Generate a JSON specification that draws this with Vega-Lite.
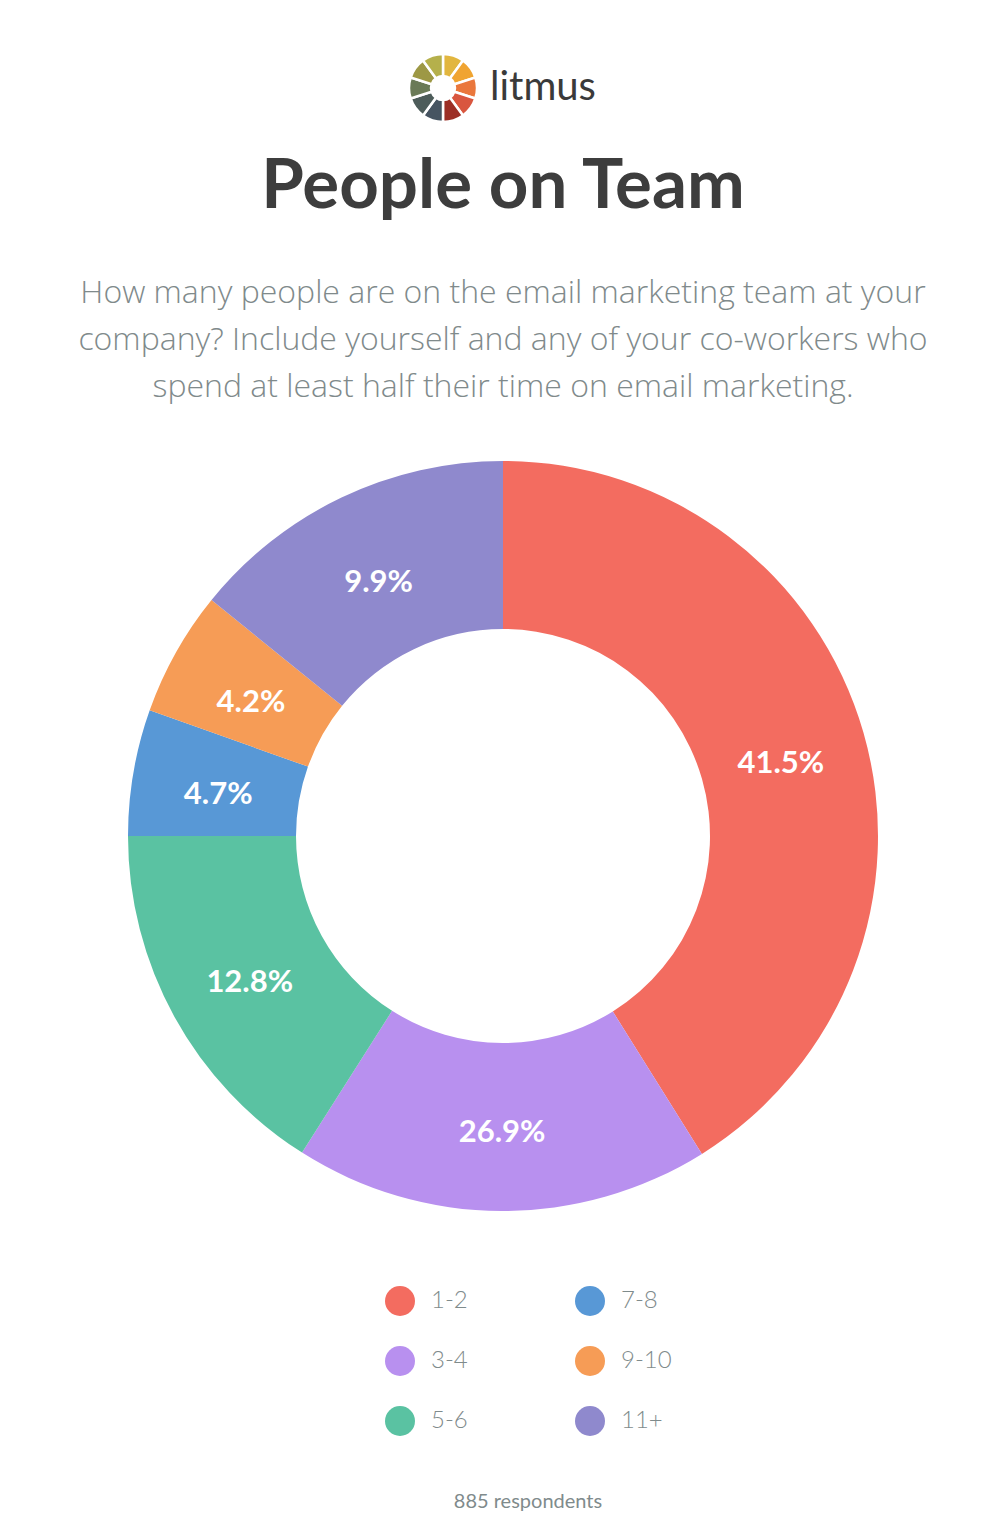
{
  "$schema": "https://vega.github.io/schema/vega-lite/v6.json",
  "width": 994,
  "height": 1388,
  "autosize": {"type": "none"},
  "padding": {"left": 6, "top": 142, "right": 0, "bottom": 0},
  "background": "#ffffff",
  "config": {"view": {"stroke": null}},
  "title": {
    "text": "People on Team",
    "subtitle": [
      "How many people are on the email marketing team at your",
      "company? Include yourself and any of your co-workers who",
      "spend at least half their time on email marketing."
    ],
    "orient": "top",
    "anchor": "middle",
    "frame": "group",
    "offset": -354,
    "font": "Lato",
    "fontSize": 69,
    "fontWeight": "bold",
    "color": "#3d3d3d",
    "subtitleFont": "Open Sans",
    "subtitleFontSize": 32,
    "subtitleFontWeight": 300,
    "subtitleColor": "#808a8b",
    "subtitleLineHeight": 47,
    "subtitlePadding": 56
  },
  "datasets": {
    "teams": [
      {"group": "1-2", "drawn": 0.411, "pct": 0.415, "rank": 1},
      {"group": "3-4", "drawn": 0.179, "pct": 0.269, "rank": 2},
      {"group": "5-6", "drawn": 0.160, "pct": 0.128, "rank": 3},
      {"group": "7-8", "drawn": 0.0544, "pct": 0.047, "rank": 4},
      {"group": "9-10", "drawn": 0.0539, "pct": 0.042, "rank": 5},
      {"group": "11+", "drawn": 0.1417, "pct": 0.099, "rank": 6}
    ],
    "logo": [
      {"seg": "a", "v": 0.1},
      {"seg": "b", "v": 0.1},
      {"seg": "c", "v": 0.1},
      {"seg": "d", "v": 0.1},
      {"seg": "e", "v": 0.1},
      {"seg": "f", "v": 0.1},
      {"seg": "g", "v": 0.1},
      {"seg": "h", "v": 0.1},
      {"seg": "i", "v": 0.1},
      {"seg": "j", "v": 0.1}
    ],
    "brand": [{"name": "litmus"}]
  },
  "layer": [
    {
      "data": {"name": "teams"},
      "mark": {"type": "arc", "radius": 375, "innerRadius": 207},
      "encoding": {
        "theta": {"field": "drawn", "type": "quantitative", "stack": true},
        "order": {"field": "rank", "type": "quantitative"},
        "color": {
          "field": "group",
          "type": "nominal",
          "scale": {
            "domain": ["1-2", "7-8", "3-4", "9-10", "5-6", "11+"],
            "range": ["#F36C60", "#5898D6", "#B890EF", "#F69C56", "#5AC2A2", "#8F89CD"]
          },
          "legend": {
            "orient": "none",
            "legendX": 379,
            "legendY": 1144,
            "columns": 2,
            "direction": "horizontal",
            "symbolType": "circle",
            "symbolSize": 900,
            "symbolStrokeWidth": 0,
            "symbolOpacity": 1,
            "labelFont": "Lato",
            "labelFontSize": 24,
            "labelFontWeight": 300,
            "labelColor": "#7f8b8c",
            "labelOffset": 16,
            "columnPadding": 107,
            "rowPadding": 30,
            "title": "885 respondents",
            "titleOrient": "bottom",
            "titleAnchor": "middle",
            "titleAlign": "center",
            "titleFont": "Lato",
            "titleFontSize": 20,
            "titleFontWeight": "normal",
            "titleColor": "#7f8b8c",
            "titlePadding": 56,
            "titleLimit": 400
          }
        }
      }
    },
    {
      "data": {"name": "teams"},
      "mark": {"type": "text", "radius": 289, "dy": 8, "font": "Lato", "fontSize": 31, "fontWeight": "bold", "color": "#ffffff", "align": "center", "baseline": "middle"},
      "encoding": {
        "theta": {"field": "drawn", "type": "quantitative", "stack": true},
        "order": {"field": "rank", "type": "quantitative"},
        "text": {"field": "pct", "type": "quantitative", "format": ".1%"}
      }
    },
    {
      "data": {"name": "logo"},
      "mark": {"type": "arc", "x": 437, "y": -54, "radius": 34, "innerRadius": 12, "stroke": "#ffffff", "strokeWidth": 2.5},
      "encoding": {
        "theta": {"field": "v", "type": "quantitative", "stack": true, "scale": {"domain": [0, 1]}},
        "order": {"field": "seg", "type": "nominal"},
        "fill": {
          "field": "seg",
          "type": "nominal",
          "scale": {
            "domain": ["a", "b", "c", "d", "e", "f", "g", "h", "i", "j"],
            "range": ["#E2B63F", "#F0A431", "#EA773C", "#D9563F", "#9C2F26", "#465461", "#4D5C5A", "#6A7A57", "#9D9845", "#B5B04B"]
          },
          "legend": null
        }
      }
    },
    {
      "data": {"name": "brand"},
      "mark": {"type": "text", "x": 484, "y": -54, "align": "left", "baseline": "middle", "font": "Lato", "fontSize": 40, "color": "#3a3a3a"},
      "encoding": {
        "text": {"field": "name", "type": "nominal"}
      }
    }
  ],
  "resolve": {"scale": {"theta": "independent"}}
}
